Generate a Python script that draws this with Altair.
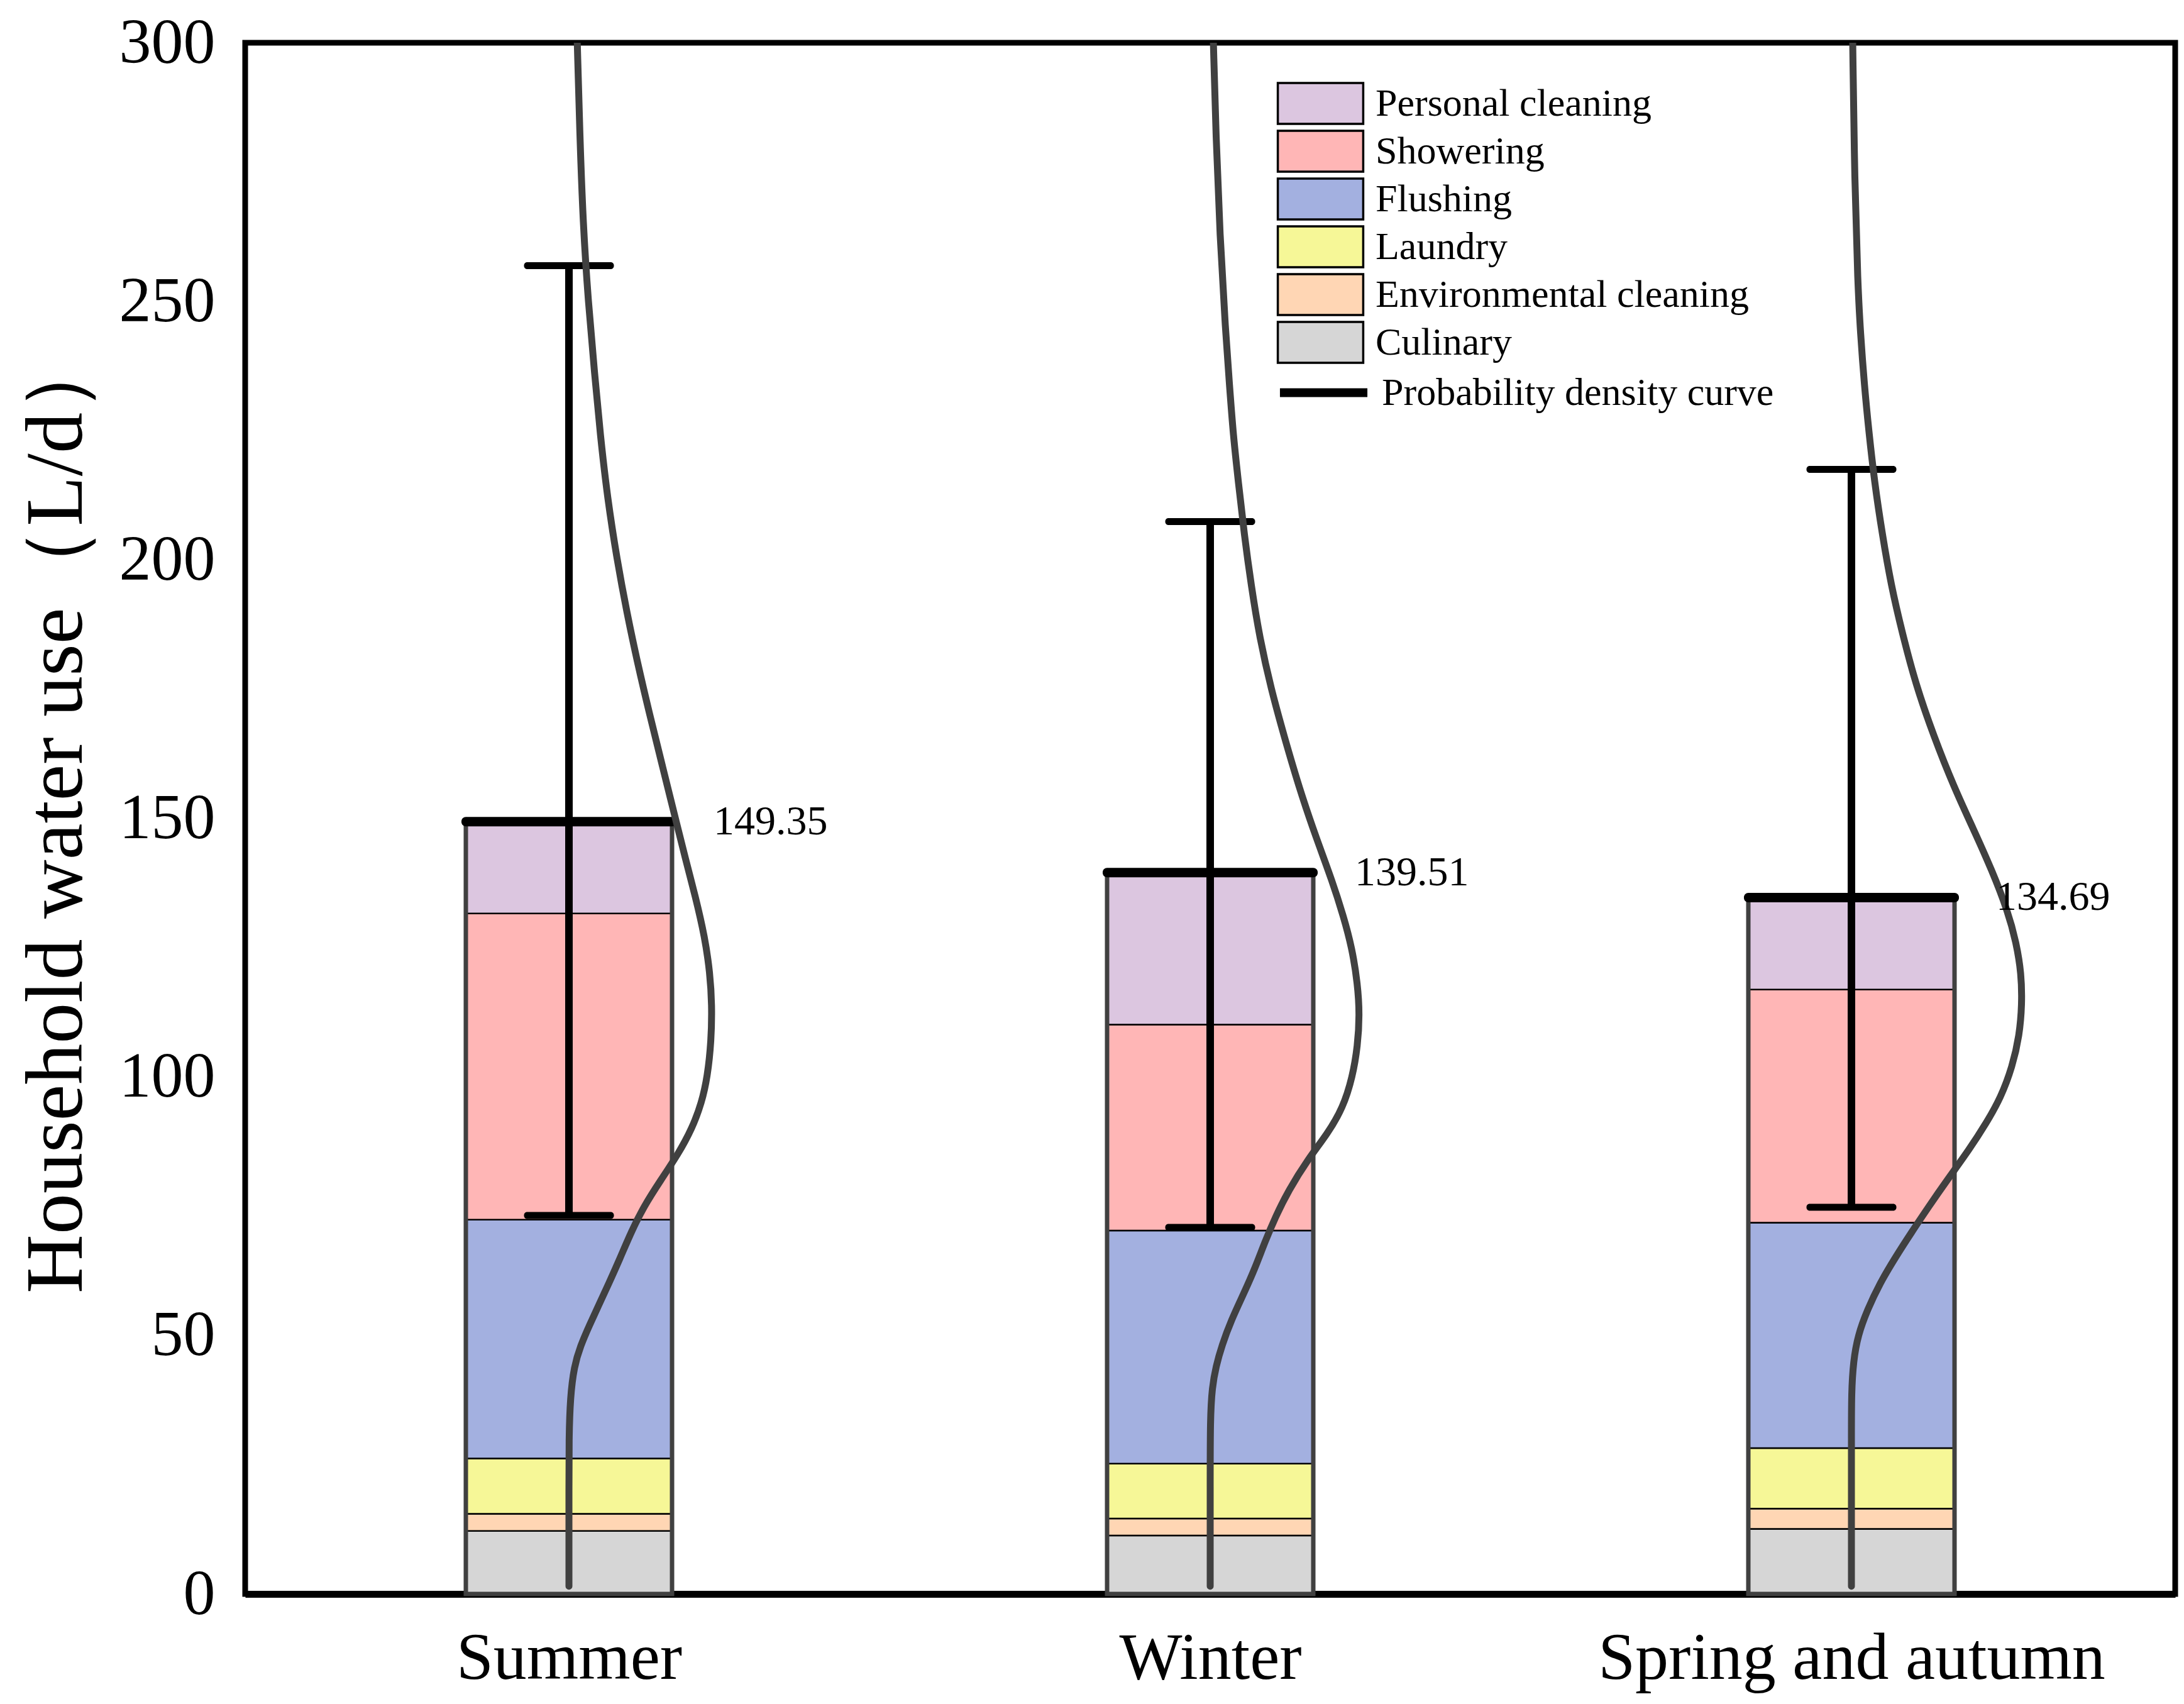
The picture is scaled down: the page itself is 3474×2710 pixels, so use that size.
import altair as alt
import pandas as pd

# ---------------- data ----------------
seasons = ["Summer", "Winter", "Spring and autumn"]
season_index = [1, 2, 3]

# stacking order, bottom -> top
uses = ["Culinary", "Environmental cleaning", "Laundry", "Flushing", "Showering", "Personal cleaning"]
# legend order (top -> bottom) and colours
legend_order = ["Personal cleaning", "Showering", "Flushing", "Laundry", "Environmental cleaning", "Culinary"]
legend_colors = ["#DCC6E0", "#FFB6B6", "#A3B0E0", "#F6F797", "#FFD6B4", "#D6D6D6"]

summer_uses = [12.2, 3.3, 10.7, 46.2, 59.2, 17.75]
winter_uses = [11.3, 3.3, 10.6, 45.1, 39.8, 29.41]
spring_uses = [12.6, 3.9, 11.7, 43.6, 45.1, 17.79]

totals = [149.35, 139.51, 134.69]
total_labels = ["149.35", "139.51", "134.69"]
err_low = [73.2, 70.9, 74.8]
err_high = [256.9, 207.4, 217.5]

# probability density curves: water use value and sideways offset (x units)
summer_curve_y = [1.5, 10, 20, 30, 38, 44, 48, 52, 56, 60, 65, 70, 75, 80, 85, 90, 95, 100, 107, 114,
                  120, 127, 135, 142, 150, 160, 170, 180, 190, 200, 212, 224, 236, 250, 265, 282, 300]
summer_curve_dx = [0, 0, 0, 0, 0.002, 0.008, 0.018, 0.032, 0.047, 0.062, 0.080, 0.097, 0.117, 0.143,
                   0.170, 0.192, 0.207, 0.216, 0.222, 0.223, 0.220, 0.212, 0.197, 0.182, 0.166, 0.146,
                   0.126, 0.107, 0.090, 0.075, 0.060, 0.049, 0.040, 0.030, 0.022, 0.017, 0.013]
winter_curve_y = [1.5, 10, 20, 34, 40, 44, 48, 53, 58, 63, 68, 73, 78, 84, 89, 94, 100, 106, 112, 118,
                  125, 131, 138, 146, 155, 166, 175, 185, 195, 205, 215, 224, 234, 244, 263, 282, 300]
winter_curve_dx = [0, 0, 0, 0, 0.003, 0.009, 0.018, 0.033, 0.052, 0.070, 0.085, 0.102, 0.122, 0.152,
                   0.183, 0.207, 0.222, 0.230, 0.233, 0.230, 0.221, 0.208, 0.190, 0.166, 0.141, 0.115,
                   0.095, 0.077, 0.064, 0.053, 0.044, 0.036, 0.030, 0.024, 0.015, 0.009, 0.005]
spring_curve_y = [1.5, 10, 20, 30, 39, 45, 50, 55, 60, 65, 70, 75, 80, 86, 91, 96, 102, 108, 114, 120,
                  126, 132, 140, 148, 156, 166, 176, 186, 195, 205, 215, 225, 234, 244, 253, 273, 300]
spring_curve_dx = [0, 0, 0, 0, 0, 0.003, 0.010, 0.025, 0.044, 0.068, 0.094, 0.121, 0.149, 0.184,
                   0.210, 0.233, 0.251, 0.262, 0.266, 0.265, 0.257, 0.244, 0.219, 0.190, 0.160, 0.128,
                   0.100, 0.079, 0.062, 0.048, 0.036, 0.027, 0.020, 0.014, 0.010, 0.005, 0.002]

y_ticks = [0, 50, 100, 150, 200, 250, 300]

# ---------------- tables ----------------
rows = []
for s, idx, vals in zip(seasons, season_index, [summer_uses, winter_uses, spring_uses]):
    base = 0.0
    for k, (u, v) in enumerate(zip(uses, vals)):
        rows.append({"season": s, "idx": idx, "use": u, "y0": base, "y1": base + v, "ord": k})
        base += v
bars = pd.DataFrame(rows)

summary = pd.DataFrame({
    "season": seasons, "idx": season_index, "total": totals,
    "label": total_labels, "low": err_low, "high": err_high,
})
caps = pd.concat([
    summary[["season", "idx", "low"]].rename(columns={"low": "v"}),
    summary[["season", "idx", "high"]].rename(columns={"high": "v"}),
])

crows = []
for s, idx, cy, cdx in zip(seasons, season_index,
                           [summer_curve_y, winter_curve_y, spring_curve_y],
                           [summer_curve_dx, winter_curve_dx, spring_curve_dx]):
    for p, (yy, dd) in enumerate(zip(cy, cdx)):
        crows.append({"season": s, "cx": idx + dd, "cy": yy, "pt": p,
                      "kind": "Probability density curve"})
curves = pd.DataFrame(crows)

# ---------------- encodings ----------------
FONT = "Liberation Serif"
label_expr = "[" + ",".join("'" + s + "'" for s in seasons) + "][datum.value - 1]"

x_scale = alt.Scale(domain=[0.5, 3.5], nice=False, zero=False)
y_scale = alt.Scale(domain=[0, 300], nice=False)

x_axis = alt.Axis(values=season_index, labelExpr=label_expr, title=None, grid=False,
                  ticks=False, domain=True, domainColor="black", domainWidth=11,
                  labelFont=FONT, labelFontSize=106, labelColor="black", labelPadding=50,
                  labelAngle=0, labelLimit=3000)
y_axis = alt.Axis(values=y_ticks, title="Household water use（L/d）", grid=False, ticks=False,
                  domain=False, labelFont=FONT, labelFontSize=102, labelColor="black",
                  labelPadding=48, titleFont=FONT, titleFontSize=130, titleFontWeight="normal",
                  titleColor="black", titleX=-261, titleY=1223, titleAlign="center",
                  titleBaseline="alphabetic", titleAngle=270, titleLimit=4000)

X = alt.X("idx:Q", scale=x_scale, axis=x_axis)

rect_path = "M-2.09,-1H2.09V1H-2.09Z"
line_path = "M-2.14,0H2.14"

fill_legend = alt.Legend(title=None, orient="none", legendX=1676, legendY=62, padding=0,
                         symbolType=rect_path, symbolSize=4225, symbolStrokeColor="black",
                         symbolStrokeWidth=3.5, symbolOpacity=1, labelFont=FONT,
                         labelFontSize=62, labelColor="black", labelOffset=53,
                         labelLimit=2000)
stroke_legend = alt.Legend(title=None, orient="none", legendX=1676, legendY=517, padding=0,
                           symbolType=line_path, symbolSize=4225, symbolStrokeWidth=14,
                           symbolOpacity=1, labelFont=FONT, labelFontSize=62,
                           labelColor="black", labelOffset=53, labelLimit=2000)

bar_layer = alt.Chart(bars).mark_bar(size=328, stroke="black", strokeWidth=2.5).encode(
    x=X,
    y=alt.Y("y0:Q", scale=y_scale, axis=y_axis),
    y2="y1:Q",
    fill=alt.Fill("use:N", scale=alt.Scale(domain=legend_order, range=legend_colors),
                  legend=fill_legend),
)

outline_layer = alt.Chart(summary).mark_bar(size=328, fillOpacity=0, stroke="#404040",
                                            strokeWidth=7).encode(
    x=X, y=alt.Y("total:Q", scale=y_scale)
)

err_layer = alt.Chart(summary).mark_rule(color="black", strokeWidth=12).encode(
    x=X, y=alt.Y("low:Q", scale=y_scale), y2="high:Q"
)

cap_layer = alt.Chart(caps).mark_tick(orient="horizontal", size=143, thickness=11,
                                      color="black", cornerRadius=5, opacity=1).encode(
    x=X, y=alt.Y("v:Q", scale=y_scale)
)

top_layer = alt.Chart(summary).mark_tick(orient="horizontal", size=342, thickness=15,
                                         color="black", cornerRadius=7, opacity=1).encode(
    x=X, y=alt.Y("total:Q", scale=y_scale)
)

# invisible copy of the curves that only carries the legend entry (black line)
curve_legend_layer = alt.Chart(curves).mark_line(opacity=0, clip=True).encode(
    x=alt.X("cx:Q", scale=x_scale),
    y=alt.Y("cy:Q", scale=y_scale),
    detail="season:N",
    order="pt:Q",
    stroke=alt.Stroke("kind:N", scale=alt.Scale(range=["black"]), legend=stroke_legend),
)

curve_layer = alt.Chart(curves).mark_line(strokeWidth=11, strokeCap="round", color="#404040",
                                          interpolate="basis", clip=True).encode(
    x=alt.X("cx:Q", scale=x_scale),
    y=alt.Y("cy:Q", scale=y_scale),
    detail="season:N",
    order="pt:Q",
)

text_layer = alt.Chart(summary).mark_text(align="left", baseline="middle", dx=230,
                                          font=FONT, fontSize=66, color="black").encode(
    x=X, y=alt.Y("total:Q", scale=y_scale), text="label:N"
)

chart = alt.layer(
    bar_layer, outline_layer, err_layer, cap_layer, top_layer, curve_legend_layer,
    curve_layer, text_layer
).properties(
    width=3070, height=2467,
    background="white",
    autosize=alt.AutoSizeParams(type="none"),
    padding={"left": 382, "top": 60, "right": 6, "bottom": 172},
).configure_view(
    stroke="black", strokeWidth=9
).configure_legend(
    rowPadding=-3
)

chart.save("out.html", embed_options={"renderer": "svg", "actions": False})
